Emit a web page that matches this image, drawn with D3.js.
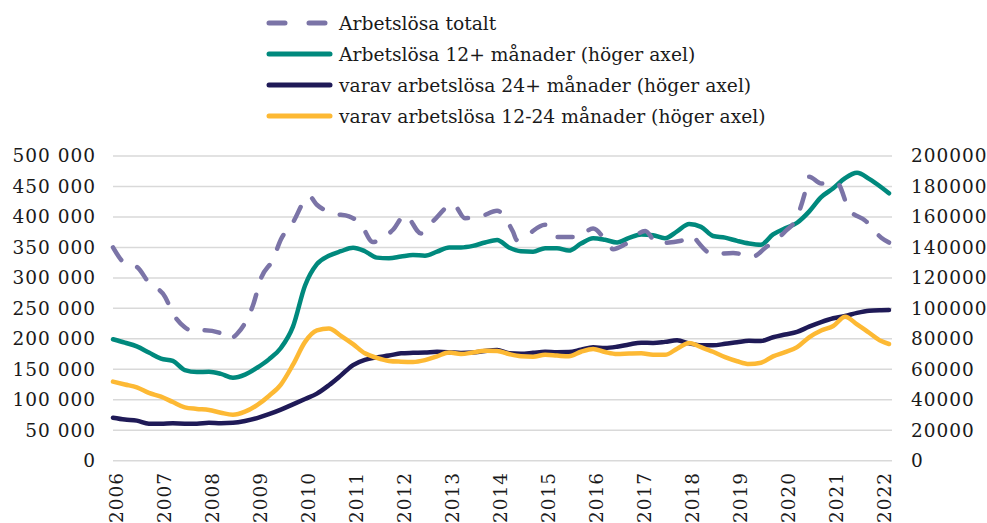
<!DOCTYPE html>
<html lang="sv">
<head>
  <meta charset="UTF-8">
  <title>Arbetslösa</title>
  <script src="https://cdn.jsdelivr.net/npm/d3@7"></script>
  <style>
    body {
      margin: 0;
      padding: 0;
      background: #fff;
    }
    svg text {
      font-family: "DejaVu Serif", Georgia, serif;
      fill: #1a1a1a;
    }
  </style>
</head>
<body>
  <div id="chart"></div>
  <script>
    // quarterly dates for the long-term series (right axis)
    var quarters = [
      "2006-01", "2006-04", "2006-07", "2006-10", "2007-01", "2007-04", "2007-07", "2007-10",
      "2008-01", "2008-04", "2008-07", "2008-10", "2009-01", "2009-04", "2009-07", "2009-10",
      "2010-01", "2010-04", "2010-07", "2010-10", "2011-01", "2011-04", "2011-07", "2011-10",
      "2012-01", "2012-04", "2012-07", "2012-10", "2013-01", "2013-04", "2013-07", "2013-10",
      "2014-01", "2014-04", "2014-07", "2014-10", "2015-01", "2015-04", "2015-07", "2015-10",
      "2016-01", "2016-04", "2016-07", "2016-10", "2017-01", "2017-04", "2017-07", "2017-10",
      "2018-01", "2018-04", "2018-07", "2018-10", "2019-01", "2019-04", "2019-07", "2019-10",
      "2020-01", "2020-04", "2020-07", "2020-10", "2021-01", "2021-04", "2021-07", "2021-10",
      "2022-01", "2022-03"
    ];

    // Arbetslösa 12+ månader
    var long12 = [
      79700, 77500, 75000, 71000, 67000, 65500, 59500, 58200, 58400, 57000,
      54500, 56500, 61000, 66500, 74000, 88000, 115000, 129000, 134500, 137500,
      139800, 137500, 133300, 132900, 134000, 135000, 134600, 137200, 140000, 140000,
      141000, 143200, 144900, 140000, 137500, 137200, 139500, 139500, 137900, 142500,
      146000, 145000, 143300, 146200, 148500, 148000, 146000, 150500, 155300, 153500,
      147500, 146400, 144300, 142600, 141800, 148500, 152500, 156200, 163500, 173000,
      178800, 185500, 189000, 185000, 179500, 175500
    ];

    // varav 24+ månader
    var long24 = [
      28200, 27000, 26300, 24300, 24200, 24500, 24300, 24300, 24900, 24600,
      24900, 26100, 28000, 30500, 33500, 37000, 40500, 44000, 49500, 56000,
      62800, 66200, 67800, 69000, 70500, 70800, 71000, 71500, 71200, 70700,
      71000, 72000, 72600, 70500, 70200, 70800, 71500, 71200, 71300, 72800,
      74400, 74000, 74800, 76300, 77500, 77300, 78000, 79000, 77000, 75800,
      75800, 76700, 77800, 78700, 78600, 81000, 82800, 84500, 88000, 91000,
      93500, 95000, 97000, 98400, 98800, 98900
    ];

    // varav 12-24 månader
    var long1224 = [
      51900, 50000, 48200, 44500, 42000, 38500, 35000, 34000, 33300, 31500,
      30200, 32200, 36500, 42500, 50000, 63000, 78000, 85500, 86800, 82000,
      76500, 70500, 67500, 65500, 65000, 64800, 66000, 68500, 71000, 70000,
      71000, 72100, 72000, 70000, 68600, 68300, 69500, 69000, 68500, 71500,
      73300, 71300, 70000, 70300, 70500, 69500, 69500, 73500, 77300, 74500,
      71500, 68000, 65300, 63500, 64300, 68500, 71300, 74500, 81000, 85500,
      88400, 94500, 89500, 84000, 78500, 76600
    ];

    // Arbetslösa totalt (left axis), read at its turning points
    var totalDates = [
      "2006-01", "2006-04", "2006-07", "2006-10", "2007-02", "2007-04", "2007-07", "2007-10",
      "2007-12", "2008-04", "2008-06", "2008-08", "2008-11", "2008-12", "2009-02", "2009-05",
      "2009-07", "2009-10", "2010-01", "2010-02", "2010-04", "2010-08", "2010-12", "2011-03",
      "2011-06", "2011-11", "2012-02", "2012-06", "2012-09", "2013-02", "2013-05", "2013-09",
      "2014-01", "2014-05", "2014-06", "2014-08", "2015-01", "2015-04", "2015-09", "2016-01",
      "2016-05", "2016-06", "2016-09", "2017-02", "2017-05", "2017-11", "2018-02", "2018-03",
      "2018-07", "2018-12", "2019-05", "2019-08", "2020-01", "2020-04", "2020-06", "2020-07",
      "2020-10", "2021-02", "2021-05", "2021-09", "2022-01", "2022-03"
    ];
    var totalValues = [
      350000, 324000, 318000, 292000, 269000, 242000, 219000, 211000,
      214000, 209000, 199000, 208000, 239000, 255000, 300000, 330000,
      363000, 391000, 428000, 434000, 420000, 406000, 401000, 388000,
      359000, 379000, 403000, 373000, 393000, 421000, 398000, 401000,
      410000, 376000, 362000, 368000, 387000, 367000, 367000, 381000,
      354000, 347000, 355000, 377000, 357000, 361000, 369000, 361000,
      339000, 341000, 335000, 349000, 376000, 400000, 441000, 466000,
      455000, 455000, 412000, 394000, 366000, 358000
    ];

    var leftTicks = [0, 50000, 100000, 150000, 200000, 250000, 300000, 350000, 400000, 450000, 500000];
    var rightTicks = [0, 20000, 40000, 60000, 80000, 100000, 120000, 140000, 160000, 180000, 200000];
    var yearTicks = d3.range(2006, 2023);

    var legendItems = [
      { name: "Arbetslösa totalt", color: "#7b74a7", dashed: true },
      { name: "Arbetslösa 12+ månader (höger axel)", color: "#00897d" },
      { name: "varav arbetslösa 24+ månader (höger axel)", color: "#1f1a57" },
      { name: "varav arbetslösa 12-24 månader (höger axel)", color: "#fdb934" }
    ];

    var width = 987, height = 523;
    var margin = { left: 113, right: 98, top: 156, bottom: 62 };
    var parse = d3.timeParse("%Y-%m");

    var svg = d3.select("#chart").append("svg")
      .attr("width", width)
      .attr("height", height);

    var x = d3.scaleTime()
      .domain([parse("2006-01"), parse("2022-03")])
      .range([margin.left, width - margin.right]);

    var yLeft = d3.scaleLinear()
      .domain([0, 500000])
      .range([height - margin.bottom - 0.3, margin.top]);

    var yRight = d3.scaleLinear()
      .domain([0, 200000])
      .range(yLeft.range());

    // gridlines
    svg.append("g")
      .selectAll("line")
      .data(leftTicks)
      .enter()
      .append("line")
      .attr("x1", margin.left)
      .attr("x2", 892)
      .attr("y1", d => yLeft(d))
      .attr("y2", d => yLeft(d))
      .attr("stroke", "#d9d9d9")
      .attr("stroke-width", 1.5);

    var fmtLeft = d => d3.format(",")(d).replace(/,/g, " ");

    var leftAxis = svg.append("g")
      .attr("transform", "translate(95,0)")
      .call(d3.axisLeft(yLeft).tickValues(leftTicks).tickFormat(fmtLeft).tickSize(0).tickPadding(0));
    var rightAxis = svg.append("g")
      .attr("transform", "translate(911,0)")
      .call(d3.axisRight(yRight).tickValues(rightTicks).tickFormat(d3.format("d")).tickSize(0).tickPadding(0));

    var xAxis = svg.append("g")
      .attr("transform", "translate(3,472)")
      .call(d3.axisBottom(x)
        .tickValues(yearTicks.map(y => parse(y + "-01")))
        .tickFormat(d3.timeFormat("%Y"))
        .tickSize(0));
    xAxis.selectAll("text")
      .attr("transform", "rotate(-90)")
      .attr("text-anchor", "end")
      .attr("x", 0)
      .attr("y", 0)
      .attr("dy", "0.36em");

    [leftAxis, rightAxis, xAxis].forEach(function (g) {
      g.select(".domain").remove();
      g.selectAll("text")
        .style("font-size", "18.5px")
        .style("letter-spacing", "1px");
    });
    // letter-spacing adds a trailing gap after the last glyph; pull right-aligned labels back
    leftAxis.selectAll("text").attr("dx", "1px");

    // lines
    var lineRight = d3.line()
      .x((d, i) => x(parse(quarters[i])))
      .y(d => yRight(d))
      .curve(d3.curveMonotoneX);

    var lineTotal = d3.line()
      .x((d, i) => x(parse(totalDates[i])))
      .y(d => yLeft(d))
      .curve(d3.curveMonotoneX);

    var plotted = [
      { values: long12, color: legendItems[1].color },
      { values: long24, color: legendItems[2].color },
      { values: long1224, color: legendItems[3].color }
    ];

    plotted.forEach(function (s) {
      svg.append("path")
        .datum(s.values)
        .attr("d", lineRight)
        .attr("fill", "none")
        .attr("stroke", s.color)
        .attr("stroke-width", 4.5)
        .attr("stroke-linejoin", "round")
        .attr("stroke-linecap", "round");
    });

    svg.append("path")
      .datum(totalValues)
      .attr("d", lineTotal)
      .attr("fill", "none")
      .attr("stroke", legendItems[0].color)
      .attr("stroke-width", 4.5)
      .attr("stroke-dasharray", "15,18")
      .attr("stroke-linecap", "round")
      .attr("stroke-linejoin", "round");

    // legend
    var legend = svg.append("g").attr("transform", "translate(269,0)");
    var rowY = [23, 54, 85, 116];
    legendItems.forEach(function (item, i) {
      var row = legend.append("g").attr("transform", "translate(0," + rowY[i] + ")");
      row.append("line")
        .attr("x1", 0)
        .attr("x2", 61)
        .attr("stroke", item.color)
        .attr("stroke-width", 5)
        .attr("stroke-linecap", "round")
        .attr("stroke-dasharray", item.dashed ? "16,24" : null);
      row.append("text")
        .attr("x", 70)
        .attr("dy", "0.35em")
        .style("font-size", "18.7px")
        .text(item.name);
    });
  </script>
</body>
</html>
